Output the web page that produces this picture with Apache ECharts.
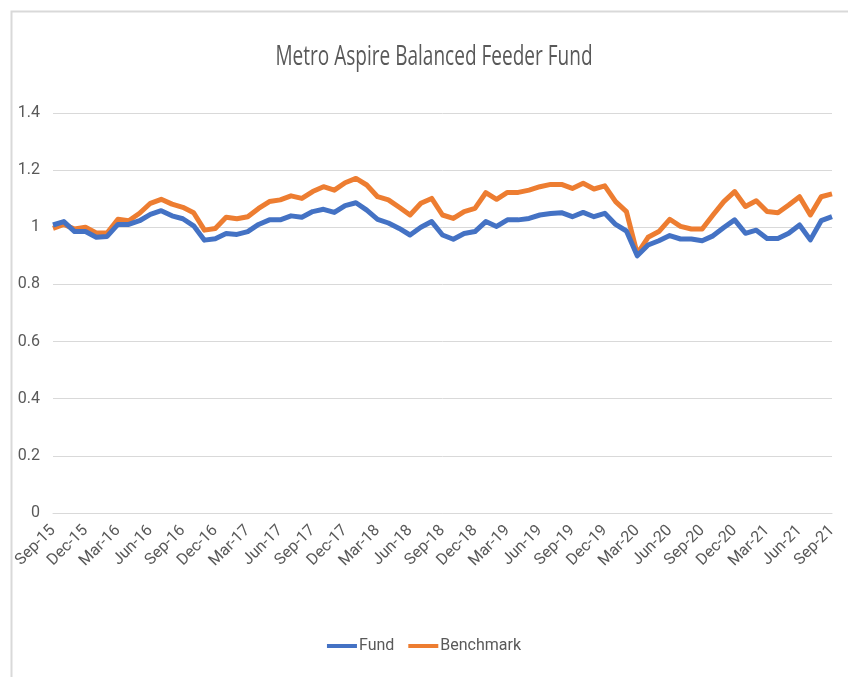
<!DOCTYPE html>
<html>
<head>
<meta charset="utf-8">
<script src="https://cdn.jsdelivr.net/npm/echarts@6/dist/echarts.min.js"></script>
<style>
  html, body { margin: 0; padding: 0; background: #fff; }
  #main { width: 848px; height: 677px; }
</style>
</head>
<body>
<div id="main"></div>
<script>
// month-end dates Sep-15 .. Sep-21
var monthNames = ['Jan', 'Feb', 'Mar', 'Apr', 'May', 'Jun', 'Jul', 'Aug', 'Sep', 'Oct', 'Nov', 'Dec']
var categories = []
for (var k = 0; k < 73; k++) {
  var m = (8 + k) % 12
  var yr = 15 + Math.floor((8 + k) / 12)
  categories.push(monthNames[m] + '-' + yr)
}

var fund = [
  1.008, 1.02, 0.985, 0.985, 0.965, 0.968, 1.01, 1.01, 1.023, 1.045,
  1.058, 1.04, 1.03, 1.005, 0.955, 0.96, 0.978, 0.975, 0.985, 1.01,
  1.026, 1.026, 1.04, 1.035, 1.055, 1.063, 1.052, 1.076, 1.086, 1.06,
  1.028, 1.015, 0.996, 0.973, 1.0, 1.02, 0.973, 0.958, 0.978, 0.985,
  1.02, 1.003, 1.026, 1.026, 1.031, 1.043, 1.048, 1.051, 1.037, 1.052,
  1.037, 1.049, 1.01, 0.987, 0.9, 0.938, 0.953, 0.971, 0.959, 0.959,
  0.953, 0.97, 0.999, 1.026, 0.979, 0.99, 0.961, 0.961, 0.979, 1.008,
  0.956, 1.023, 1.037
]

var benchmark = [
  0.996, 1.01, 0.994, 1.0, 0.98, 0.98, 1.028, 1.023, 1.049, 1.084,
  1.098, 1.081, 1.07, 1.051, 0.99, 0.996, 1.035, 1.03, 1.037, 1.066,
  1.09, 1.096, 1.11, 1.101, 1.125, 1.142, 1.13, 1.156, 1.171, 1.148,
  1.107, 1.096, 1.07, 1.043, 1.084, 1.101, 1.043, 1.031, 1.055, 1.066,
  1.121, 1.098, 1.122, 1.122, 1.13, 1.142, 1.15, 1.15, 1.136, 1.154,
  1.134, 1.145, 1.09, 1.055, 0.907, 0.965, 0.985, 1.028, 1.003, 0.994,
  0.994, 1.043, 1.09, 1.125, 1.073, 1.093, 1.055, 1.051, 1.078, 1.107,
  1.043, 1.107, 1.117
]

var textFont = 'Roboto, "Open Sans", sans-serif'
var textColor = '#595959'

var chart = echarts.init(document.getElementById('main'), null, { renderer: 'canvas' })

var option = {
  animation: false,
  color: ['#4472C4', '#ED7D31'],
  graphic: [{
    // chart border (only top/left show in the picture)
    type: 'rect',
    left: 9,
    top: 9,
    shape: { width: 900, height: 720 },
    style: { fill: 'none', stroke: '#d9d9d9', lineWidth: 2 },
    silent: true
  }, {
    // title, squeezed like the narrow font in the original
    type: 'text',
    x: 434,
    y: 57,
    scaleX: 0.68,
    style: {
      text: 'Metro Aspire Balanced Feeder Fund',
      x: 0,
      y: 0,
      align: 'center',
      verticalAlign: 'middle',
      fill: textColor,
      font: '28px "Open Sans", sans-serif'
    },
    silent: true
  }],
  legend: {
    bottom: 18,
    left: 'center',
    itemWidth: 30,
    itemHeight: 4,
    itemGap: 14,
    icon: 'rect',
    textStyle: {
      color: textColor,
      fontFamily: textFont,
      fontSize: 16,
      padding: [0, 0, 0, -3]
    },
    data: ['Fund', 'Benchmark']
  },
  grid: {
    left: 53,
    right: 16,
    top: 113,
    bottom: 164,
    containLabel: false
  },
  xAxis: {
    type: 'category',
    data: categories,
    boundaryGap: false,
    axisLine: { lineStyle: { color: '#d9d9d9', width: 1 } },
    axisTick: { show: false },
    axisLabel: {
      interval: 2,
      rotate: 45,
      color: textColor,
      fontFamily: textFont,
      fontSize: 16,
      margin: 15
    },
    splitLine: { show: false }
  },
  yAxis: {
    type: 'value',
    min: 0,
    max: 1.4,
    interval: 0.2,
    axisLine: { show: false },
    axisTick: { show: false },
    axisLabel: {
      color: textColor,
      fontFamily: textFont,
      fontSize: 16,
      margin: 13
    },
    splitLine: { lineStyle: { color: '#d9d9d9', width: 1 } }
  },
  series: [{
    name: 'Fund',
    type: 'line',
    data: fund,
    showSymbol: false,
    lineStyle: { width: 5, join: 'round' },
    z: 3
  }, {
    name: 'Benchmark',
    type: 'line',
    data: benchmark,
    showSymbol: false,
    lineStyle: { width: 5, join: 'round' },
    z: 2
  }]
}

chart.setOption(option)
</script>
</body>
</html>
